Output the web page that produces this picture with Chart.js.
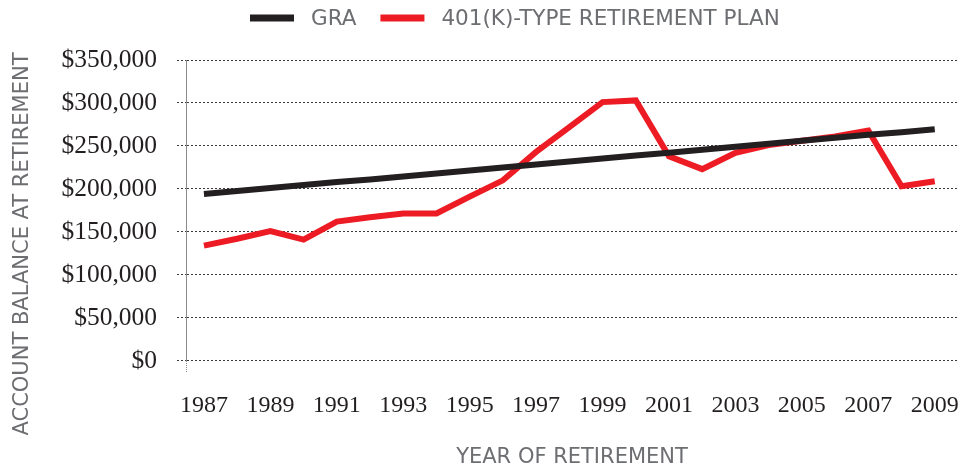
<!DOCTYPE html>
<html>
<head>
<meta charset="utf-8">
<script src="https://cdn.jsdelivr.net/npm/chart.js@4.4.1/dist/chart.umd.min.js"></script>
<style>
  html, body { margin: 0; padding: 0; background: #ffffff; }
  #wrap { width: 958px; height: 470px; position: relative; }
</style>
</head>
<body>
<div id="wrap"><canvas id="c"></canvas></div>
<script>
// ---- data (values in dollars) ----
const years = [1987, 1988, 1989, 1990, 1991, 1992, 1993, 1994, 1995, 1996, 1997, 1998,
               1999, 2000, 2001, 2002, 2003, 2004, 2005, 2006, 2007, 2008, 2009];
const graValues = [194000, 197500, 201000, 204500, 208000, 211000, 214500, 218000, 221500,
                   225000, 228500, 232000, 235500, 239000, 242000, 245500, 249000, 252500,
                   256000, 259500, 263000, 266000, 269500];
const plan401kValues = [134000, 142000, 151000, 141000, 162000, 167000, 171500, 171500, 191000,
                        210000, 243000, 272000, 301000, 303000, 238000, 223000, 242000, 251000,
                        256000, 261000, 268000, 203000, 209000];
const xTickYears = [1987, 1989, 1991, 1993, 1995, 1997, 1999, 2001, 2003, 2005, 2007, 2009];
const yTicks = [0, 50000, 100000, 150000, 200000, 250000, 300000, 350000];
const seriesLabels = ['GRA', '401(K)-TYPE RETIREMENT PLAN'];
const yTitle = 'ACCOUNT BALANCE AT RETIREMENT';
const xTitle = 'YEAR OF RETIREMENT';

const X_MIN = 1986.46, X_MAX = 2009.7;
const SANS = '"DejaVu Sans", sans-serif';
const SERIF = '"Liberation Serif", serif';
const GREY = '#6d6e71';

const toPoints = vals => years.map((yr, i) => ({ x: yr, y: vals[i] }));

const overlay = {
  id: 'overlay',
  afterDraw(chart) {
    const ctx = chart.ctx;
    ctx.save();
    ctx.font = '21.5px ' + SANS;
    ctx.textBaseline = 'middle';
    ctx.textAlign = 'left';
    let x = 250;
    const y = 18;
    chart.data.datasets.forEach(ds => {
      ctx.fillStyle = ds.borderColor;
      ctx.fillRect(x, y - 3.5, 44, 7);
      x += 44 + 17;
      ctx.fillStyle = GREY;
      ctx.fillText(ds.label, x, y + 1);
      x += ctx.measureText(ds.label).width + 24;
    });
    ctx.font = '21px ' + SANS;
    ctx.translate(23, 244);
    ctx.rotate(-Math.PI / 2);
    ctx.textAlign = 'center';
    ctx.fillStyle = GREY;
    ctx.fillText(yTitle, 0, 0);
    ctx.restore();
  }
};

new Chart(document.getElementById('c'), {
  type: 'line',
  data: {
    datasets: [
      {
        label: seriesLabels[0],
        data: toPoints(graValues),
        borderColor: '#231f20',
        backgroundColor: '#231f20',
        borderWidth: 6,
        pointRadius: 0,
        tension: 0
      },
      {
        label: seriesLabels[1],
        data: toPoints(plan401kValues),
        borderColor: '#ed1c24',
        backgroundColor: '#ed1c24',
        borderWidth: 6,
        pointRadius: 0,
        tension: 0
      }
    ]
  },
  options: {
    responsive: true,
    maintainAspectRatio: false,
    animation: false,
    layout: { padding: { top: 60, left: 40, right: 0, bottom: 0 } },
    plugins: {
      legend: { display: false },
      tooltip: { enabled: false }
    },
    scales: {
      x: {
        type: 'linear',
        min: X_MIN,
        max: X_MAX,
        afterBuildTicks: scale => {
          scale.ticks = [{ value: X_MIN }].concat(xTickYears.map(v => ({ value: v })));
        },
        afterFit: scale => { scale.paddingLeft = 0; scale.paddingRight = 0; },
        ticks: {
          autoSkip: false,
          maxRotation: 0,
          padding: 18.6,
          color: '#231f20',
          font: { family: SERIF, size: 24 },
          callback: v => (Number.isInteger(v) ? String(v) : '')
        },
        grid: {
          display: true,
          drawOnChartArea: false,
          drawTicks: true,
          tickLength: 12,
          tickWidth: 1,
          tickColor: ctx => (ctx.index === 0 ? '#8a8a8a' : 'rgba(0,0,0,0)'),
          tickBorderDash: [1, 1]
        },
        border: { display: false },
        title: {
          display: true,
          text: xTitle,
          color: GREY,
          font: { family: SANS, size: 21 },
          padding: { top: 6, bottom: 0 }
        }
      },
      y: {
        min: 0,
        max: 350000,
        afterBuildTicks: scale => {
          scale.ticks = yTicks.map(v => ({ value: v }));
        },
        afterFit: scale => { scale.width = 146; },
        ticks: {
          padding: 20,
          color: '#231f20',
          font: { family: SERIF, size: 25.5 },
          callback: v => '$' + Number(v).toLocaleString('en-US')
        },
        grid: {
          color: '#3a3a3a',
          lineWidth: 1,
          tickLength: 9,
          tickColor: '#3a3a3a',
          tickBorderDash: [2, 2]
        },
        border: {
          display: true,
          color: '#8a8a8a',
          width: 1,
          dash: [2, 2]
        }
      }
    }
  },
  plugins: [overlay]
});
</script>
</body>
</html>
